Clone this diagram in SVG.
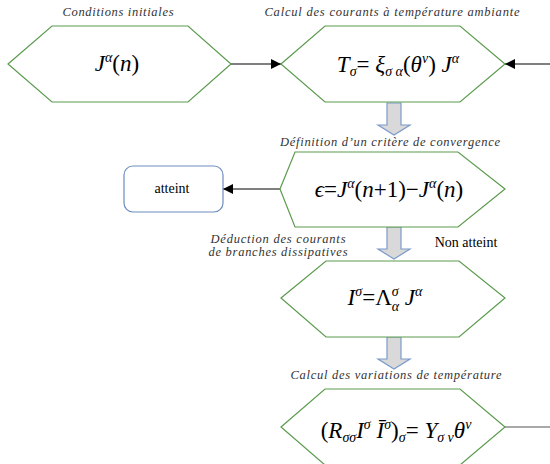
<svg xmlns="http://www.w3.org/2000/svg" width="550" height="464" viewBox="0 0 550 464">
<defs>
<marker id="ah" viewBox="0 0 10 10" refX="10" refY="5" markerWidth="14" markerHeight="10" markerUnits="userSpaceOnUse" orient="auto">
<path d="M0,0 L10,5 L0,10 z" fill="#000"/>
</marker>
</defs>

<g id="connectors">
<g fill="none" stroke="#000" stroke-width="1.2">
<path d="M231,64 L281,64" marker-end="url(#ah)"/>
<path d="M550,64 L505,64" marker-end="url(#ah)"/>
<path d="M280,189 L223,189" marker-end="url(#ah)"/>
<path d="M505,427 L550,427" stroke="#555"/>
</g>
<g fill="#d9d9d9" stroke="#7b9acb" stroke-width="1.2">
<path d="M387,103 L401,103 L401,125 L410,125 L394,135 L378,125 L387,125 Z"/>
<path d="M387,227 L401,227 L401,249 L410,249 L394,259 L378,249 L387,249 Z"/>
<path d="M387,337 L401,337 L401,359 L410,359 L394,369 L378,359 L387,359 Z"/>
</g>
</g>

<g id="n1">
<text font-family="Liberation Serif" font-style="italic" font-size="12.5" fill="#333" x="118" y="16" text-anchor="middle" textLength="111" lengthAdjust="spacing">Conditions initiales</text>
<polygon fill="#fff" stroke="#5a9b4c" stroke-width="1.2" points="8,64 52,26 188,26 231,64 188,102 52,102"/>
<text font-family="Liberation Serif" font-style="italic" font-size="23" x="117" y="71" text-anchor="middle">J<tspan font-size="14" dy="-9">α</tspan><tspan font-style="normal" dy="9">(</tspan>n<tspan font-style="normal">)</tspan></text>
</g>

<g id="n2">
<text font-family="Liberation Serif" font-style="italic" font-size="12.5" fill="#333" x="392" y="16" text-anchor="middle" textLength="255" lengthAdjust="spacing">Calcul des courants à température ambiante</text>
<polygon fill="#fff" stroke="#5a9b4c" stroke-width="1.2" points="281,64 325,26 460,26 505,64 460,102 325,102"/>
<text font-family="Liberation Serif" font-style="italic" font-size="23" x="398" y="72" text-anchor="middle">T<tspan font-size="14" dy="4">σ</tspan><tspan font-style="normal" dy="-4">= </tspan>ξ<tspan font-size="14" dy="4">σ α</tspan><tspan font-style="normal" dy="-4">(</tspan>θ<tspan font-size="14" dy="-9">v</tspan><tspan font-style="normal" dy="9">) </tspan>J<tspan font-size="14" dy="-9">α</tspan></text>
</g>

<g id="n3">
<text font-family="Liberation Serif" font-style="italic" font-size="12.5" fill="#333" x="390" y="146" text-anchor="middle" textLength="220" lengthAdjust="spacing">Définition d’un critère de convergence</text>
<polygon fill="#fff" stroke="#5a9b4c" stroke-width="1.2" points="280,189 295,152 458,152 505,189 458,227 295,227"/>
<text font-family="Liberation Serif" font-style="italic" font-size="23" x="389" y="197" text-anchor="middle">ϵ<tspan font-style="normal">=</tspan>J<tspan font-size="14" dy="-9">α</tspan><tspan font-style="normal" dy="9">(</tspan>n<tspan font-style="normal">+1)−</tspan>J<tspan font-size="14" dy="-9">α</tspan><tspan font-style="normal" dy="9">(</tspan>n<tspan font-style="normal">)</tspan></text>
</g>

<g id="n4">
<rect fill="#fff" stroke="#6c8ebf" stroke-width="1.2" x="124" y="166" width="99" height="46" rx="9" ry="9"/>
<text font-family="Liberation Serif" font-size="14" x="172" y="193" text-anchor="middle">atteint</text>
</g>

<g id="n5">
<text font-family="Liberation Serif" font-style="italic" font-size="12.5" fill="#333" x="278" y="243" text-anchor="middle" textLength="135" lengthAdjust="spacing">Déduction des courants</text>
<text font-family="Liberation Serif" font-style="italic" font-size="12.5" fill="#333" x="278" y="256" text-anchor="middle" textLength="139" lengthAdjust="spacing">de branches dissipatives</text>
<text font-family="Liberation Serif" font-size="14" x="466" y="247" text-anchor="middle">Non atteint</text>
<polygon fill="#fff" stroke="#5a9b4c" stroke-width="1.2" points="281,298 326,261 459,261 505,298 459,337 326,337"/>
<text font-family="Liberation Serif" font-style="italic" font-size="23" x="385" y="305" text-anchor="middle">I<tspan font-size="14" dy="-9">σ</tspan><tspan font-style="normal" dy="9">=Λ</tspan><tspan font-size="14" dy="-9">σ</tspan><tspan font-size="14" dx="-7" dy="15">α</tspan><tspan dy="-6"> J</tspan><tspan font-size="14" dy="-9">α</tspan></text>
</g>

<g id="n6">
<text font-family="Liberation Serif" font-style="italic" font-size="12.5" fill="#333" x="396" y="379" text-anchor="middle" textLength="211" lengthAdjust="spacing">Calcul des variations de température</text>
<polygon fill="#fff" stroke="#5a9b4c" stroke-width="1.2" points="281,427 325,389 460,389 505,427 460,465 325,465"/>
<text font-family="Liberation Serif" font-style="italic" font-size="23" x="396" y="438" text-anchor="middle"><tspan font-style="normal">(</tspan>R<tspan font-size="14" dy="4">σσ</tspan><tspan dy="-4">I</tspan><tspan font-size="14" dy="-9">σ</tspan><tspan dy="9"> Ī</tspan><tspan font-size="14" dy="-9">σ</tspan><tspan font-style="normal" dy="9">)</tspan><tspan font-size="14" dy="4">σ</tspan><tspan font-style="normal" dy="-4">= </tspan>Y<tspan font-size="14" dy="4">σ v</tspan><tspan dy="-4">θ</tspan><tspan font-size="14" dy="-9">v</tspan></text>
</g>
</svg>
